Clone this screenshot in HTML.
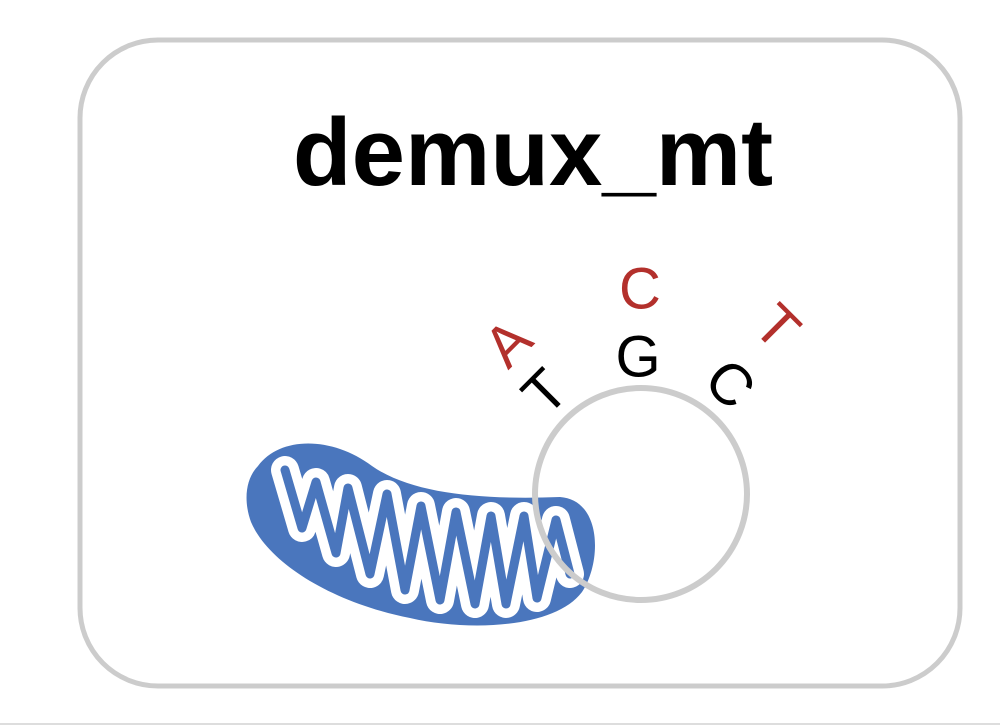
<!DOCTYPE html>
<html><head><style>
html,body{margin:0;padding:0;background:#fff;}
svg{display:block;}
text{font-family:"Liberation Sans",sans-serif;}
</style></head><body>
<svg width="1000" height="726" viewBox="0 0 1000 726">
<rect x="0" y="0" width="1000" height="726" fill="#fff"/>
<line x1="0" y1="724" x2="1000" y2="724" stroke="#ddd" stroke-width="2"/>
<rect x="80" y="40" width="880" height="646" rx="78" fill="none" stroke="#cccccc" stroke-width="5"/>
<text x="533" y="185" font-size="96" font-weight="bold" text-anchor="middle" fill="#000">demux_mt</text>
<path d="M258 466 C280 436,332 436,372 466 C412 494,482 500,560 497 C602 500,602 562,582 592 C555 628,470 632,410 618 C330 602,268 562,251 522 C243 500,246 478,258 466 Z" fill="#4a76bd"/>
<g fill="none" stroke-linejoin="round" stroke-linecap="round">
<polyline points="285,470 302,528 316,482 336,553 348,488 370,574 387,494 405,590 421,506 440,600 456,512 475,604 491,516 506,604 524,516 537,598 556,520 570,574" stroke="#fff" stroke-width="28"/>
<polyline points="285,470 302,528 316,482 336,553 348,488 370,574 387,494 405,590 421,506 440,600 456,512 475,604 491,516 506,604 524,516 537,598 556,520 570,574" stroke="#4a76bd" stroke-width="9"/>
</g>
<circle cx="641" cy="494" r="106" fill="none" stroke="#cccccc" stroke-width="6"/>
<g font-size="58" text-anchor="middle" dominant-baseline="central">
<text x="638" y="357" fill="#000">G</text>
<text x="640" y="289" fill="#b3302c">C</text>
<text x="545" y="392" fill="#000" transform="rotate(-45 545 392)">T</text>
<text x="508" y="343" fill="#b3302c" transform="rotate(-45 508 343)">A</text>
<text x="730" y="384" fill="#000" transform="rotate(45 730 384)">C</text>
<text x="777" y="327" fill="#b3302c" transform="rotate(45 777 327)">T</text>
</g>
</svg>
</body></html>
